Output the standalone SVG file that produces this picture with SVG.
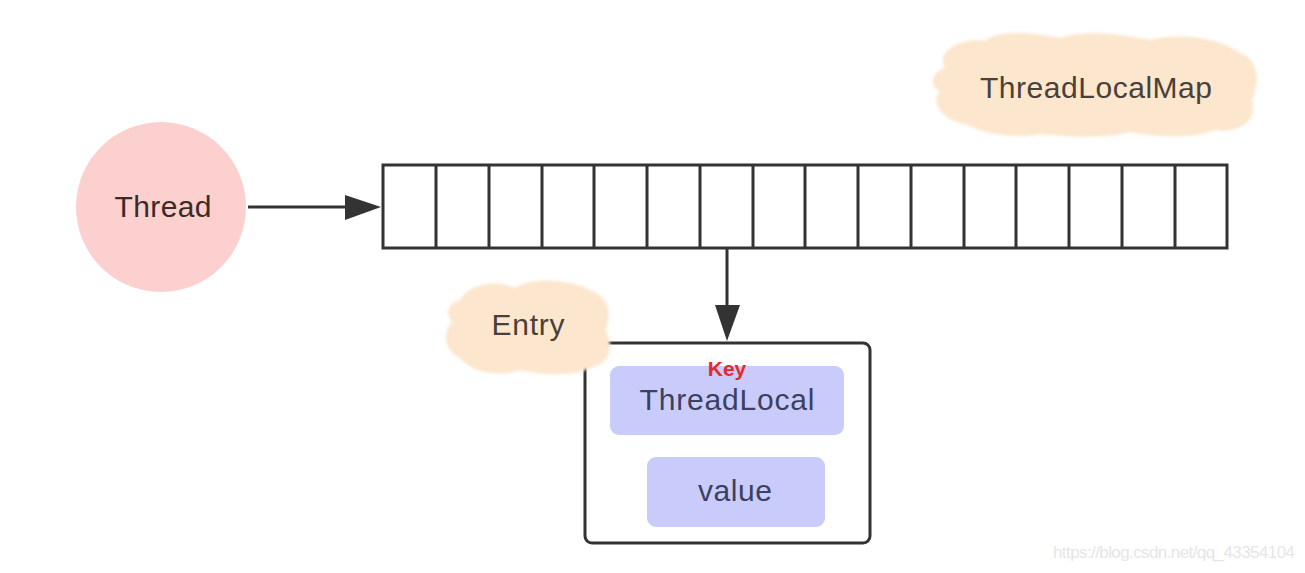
<svg xmlns="http://www.w3.org/2000/svg" width="1305" height="573" viewBox="0 0 1305 573">
<style>
.lbl{font-family:"Liberation Sans",Arial,sans-serif;font-size:30px;text-anchor:middle}
.cell{fill:#ffffff;stroke:#333333;stroke-width:3}
.cloud{fill:#fce6cd}
.inner{fill:#c9ccfb}
.conn{stroke:#333333;stroke-width:3;fill:none}
</style>
<defs>
<filter id="soft" x="-10%" y="-10%" width="120%" height="120%"><feGaussianBlur stdDeviation="1.6"/></filter>
</defs>
<rect width="1305" height="573" fill="#ffffff"/>

<g id="threadlocalmap-label">
<path class="cloud" filter="url(#soft)" d="M945,68 C935,52 960,37 985,41 C1000,28 1040,34 1060,38 C1090,28 1130,36 1150,40 C1180,32 1220,38 1240,53 C1262,60 1258,90 1252,100 C1258,120 1240,134 1215,130 C1190,140 1150,136 1130,132 C1100,140 1060,136 1040,134 C1010,140 980,132 965,124 C940,120 930,100 940,92 C928,84 932,72 945,68 Z"/>
<text class="lbl" x="1096" y="98" fill="#4a4038" textLength="232">ThreadLocalMap</text>
</g>

<g id="thread">
<circle cx="161" cy="207" r="85" fill="#fcd0cf"/>
<text class="lbl" x="163" y="217" fill="#3a2a2a" textLength="97">Thread</text>
</g>

<g id="map-array">
<rect class="cell" x="383" y="165" width="844" height="83"/>
<path class="conn" d="M436,165V248M489,165V248M542,165V248M594,165V248M647,165V248M700,165V248M753,165V248M805,165V248M858,165V248M911,165V248M964,165V248M1016,165V248M1069,165V248M1122,165V248M1175,165V248"/>
</g>

<g id="entry">
<rect x="585" y="343" width="285" height="200" rx="7" fill="#ffffff" stroke="#333333" stroke-width="3"/>
<rect class="inner" x="610" y="366" width="234" height="69" rx="9"/>
<rect class="inner" x="647" y="457" width="178" height="70" rx="9"/>
<text x="727" y="376" font-family="'Liberation Sans',Arial,sans-serif" font-size="21" font-weight="bold" fill="#e42a2a" text-anchor="middle">Key</text>
<text class="lbl" x="727" y="410" fill="#3c4060" textLength="175">ThreadLocal</text>
<text class="lbl" x="735" y="501" fill="#3c4060" textLength="74">value</text>
</g>

<g id="entry-label">
<path class="cloud" filter="url(#soft)" d="M460,300 C470,282 500,280 515,288 C535,276 570,280 590,290 C610,296 612,320 605,330 C615,345 610,365 590,368 C570,378 540,374 520,370 C500,378 470,372 460,358 C442,350 444,330 452,322 C444,312 450,302 460,300 Z"/>
<text class="lbl" x="528" y="335" fill="#4a4038" textLength="73">Entry</text>
</g>

<g id="connectors">
<line class="conn" x1="248" y1="207" x2="345" y2="207"/>
<path d="M345,195 L381,207 L345,220 Z" fill="#333333"/>
<line class="conn" x1="727" y1="248" x2="727" y2="306"/>
<path d="M715,305 L727,341 L740,305 Z" fill="#333333"/>
</g>

<text x="1174" y="558" font-family="'Liberation Sans',Arial,sans-serif" font-size="17" fill="#e6e6e6" text-anchor="middle" textLength="242">https://blog.csdn.net/qq_43354104</text>
</svg>
